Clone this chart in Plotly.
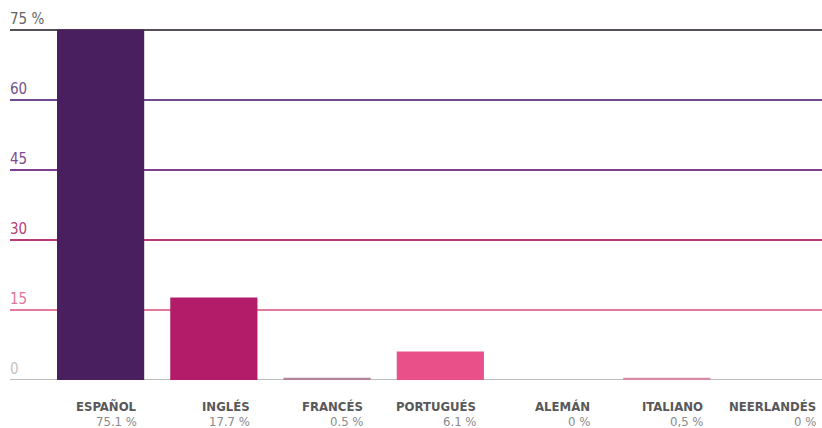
import plotly.graph_objects as go

# Share of content by language
languages = ["ESPAÑOL", "INGLÉS", "FRANCÉS", "PORTUGUÉS", "ALEMÁN", "ITALIANO", "NEERLANDÉS"]
shares = [75.1, 17.7, 0.5, 6.1, 0.0, 0.5, 0.0]
share_labels = ["75.1 %", "17.7 %", "0.5 %", "6.1 %", "0 %", "0,5 %", "0 %"]
bar_colors = ["#4a1f5f", "#b21c69", "#b08398", "#e9508a", "#d98aa5", "#d98aa5", "#d98aa5"]

y_ticks = [0, 15, 30, 45, 60, 75]
y_tick_text = ["0", "15", "30", "45", "60", "75 %"]
grid_colors = ["#bdbdbd", "#e77a9c", "#b83a78", "#7d3f8f", "#6e4a8e", "#555058"]
tick_colors = ["#c4c4c4", "#e1759a", "#b8407a", "#7f4a92", "#6f5588", "#66666a"]

FONT = "DejaVu Sans Condensed, Roboto, sans-serif"
W, H = 822, 428
M_L, M_R, M_T, M_B = 10, 0, 28, 48
px_per_unit = (H - M_B - 30) / 75.0
y_top = (H - M_T - M_B) / px_per_unit

xs = list(range(len(languages)))

fig = go.Figure(
    go.Bar(
        x=xs,
        y=shares,
        marker=dict(color=bar_colors, line=dict(width=0)),
        hoverinfo="skip",
    )
)

# Coloured horizontal rules behind the bars
for val, col in zip(y_ticks, grid_colors):
    fig.add_shape(
        type="line", xref="paper", yref="y",
        x0=0, x1=1, y0=val, y1=val,
        line=dict(color=col, width=2), layer="below",
    )

# Axis values sitting on top of each rule
for val, txt, col in zip(y_ticks, y_tick_text, tick_colors):
    fig.add_annotation(
        x=0, xref="paper", y=val, yref="y",
        text=txt, showarrow=False,
        xanchor="left", yanchor="bottom", yshift=0, xshift=-2,
        font=dict(family=FONT, size=15, color=col),
    )

# Category names and their percentages under each bar
half = 0.385
for x, name, lab in zip(xs, languages, share_labels):
    fig.add_annotation(
        x=x + half - 0.05, xref="x", y=0, yref="paper",
        text="<b>" + name + "</b>", showarrow=False,
        xanchor="right", yanchor="top", yshift=-17,
        font=dict(family=FONT, size=13, color="#58585a"),
    )
    fig.add_annotation(
        x=x + half - 0.05, xref="x", y=0, yref="paper",
        text=lab, showarrow=False,
        xanchor="right", yanchor="top", yshift=-32,
        font=dict(family=FONT, size=13, color="#8a8a8c"),
    )

fig.update_layout(
    width=W, height=H,
    margin=dict(l=M_L, r=M_R, t=M_T, b=M_B),
    paper_bgcolor="white", plot_bgcolor="white",
    showlegend=False,
    bargap=0.23,
    xaxis=dict(range=[-0.8, 6.37], showticklabels=False, showgrid=False,
               zeroline=False, showline=False, ticks=""),
    yaxis=dict(range=[0, y_top], showticklabels=False, showgrid=False,
               zeroline=False, showline=False, ticks=""),
)

fig.write_html("out.html")
